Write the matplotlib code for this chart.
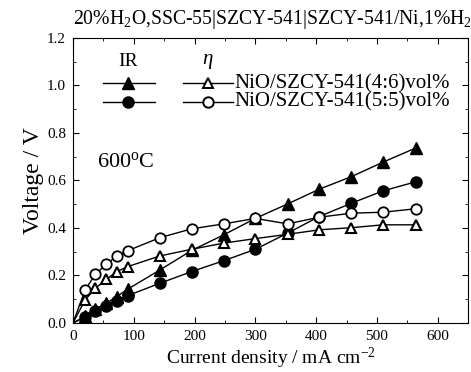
import matplotlib.pyplot as plt
from matplotlib.lines import Line2D

plt.rcParams['font.family'] = ['Liberation Serif', 'DejaVu Serif']
plt.rcParams['mathtext.fontset'] = 'custom'
plt.rcParams['mathtext.rm'] = 'Liberation Serif'
plt.rcParams['mathtext.it'] = 'Liberation Serif:italic'

current = [0, 20, 37, 55, 72, 90, 143, 195, 248, 300, 353, 405, 458, 510, 565]
ir_46 = [0, 0.027, 0.058, 0.083, 0.111, 0.142, 0.223, 0.305, 0.371, 0.440, 0.501, 0.563, 0.616, 0.677, 0.738]
eta_46 = [0, 0.097, 0.146, 0.184, 0.216, 0.237, 0.282, 0.310, 0.336, 0.355, 0.373, 0.392, 0.401, 0.413, 0.413]
ir_55 = [0, 0.025, 0.048, 0.072, 0.094, 0.115, 0.167, 0.216, 0.262, 0.310, 0.378, 0.448, 0.504, 0.556, 0.595]
eta_55 = [0, 0.139, 0.206, 0.247, 0.282, 0.304, 0.359, 0.396, 0.417, 0.440, 0.417, 0.445, 0.462, 0.466, 0.481]
labels = ['NiO/SZCY-541(4:6)vol%', 'NiO/SZCY-541(5:5)vol%']

fig = plt.figure(figsize=(4.71, 3.72), dpi=100)
ax = fig.add_axes([0.155, 0.132, 0.839, 0.766])

every = range(1, len(current))
ax.plot(current, ir_46, marker='^', color='black', mfc='black', lw=1, ms=8, markevery=every)
ax.plot(current, ir_55, marker='o', color='black', mfc='black', lw=1, ms=8, markevery=every)
ax.plot(current, eta_46, marker='^', color='black', mfc='white', lw=1, ms=7.5, mew=1.5, markevery=every)
ax.plot(current, eta_55, marker='o', color='black', mfc='white', lw=1, ms=7.5, mew=1.3, markevery=every)

ax.set_xlim(0, 650)
ax.set_ylim(0, 1.2)
ax.set_xticks(range(0, 601, 100))
ax.set_xticks(range(50, 651, 100), minor=True)
ax.set_yticks([0, 0.2, 0.4, 0.6, 0.8, 1.0, 1.2])
ax.set_yticks([0.1, 0.3, 0.5, 0.7, 0.9, 1.1], minor=True)
ax.tick_params(which='both', direction='in', top=True, right=True, labelsize=11)
ax.tick_params(which='major', length=4)
ax.tick_params(which='minor', length=2.5)
ax.tick_params(axis='y', pad=5)
ax.tick_params(axis='x', pad=5)
ax.yaxis.set_major_formatter(plt.FormatStrFormatter('%.1f'))

ax.set_xlabel('Current density / mA cm$^{-2}$', fontsize=14, labelpad=2)
ax.set_ylabel('Voltage / V', fontsize=17, labelpad=2)

fig.text(0.155, 0.935, '20%H$_2$O,SSC-55|SZCY-541|SZCY-541/Ni,1%H$_2$', fontsize=14.2, va='baseline')

# legend drawn by hand
ax.text(0.139, 0.916, 'IR', transform=ax.transAxes, ha='center', va='center', fontsize=14)
ax.text(0.342, 0.916, r'$\it{\eta}$', transform=ax.transAxes, ha='center', va='center', fontsize=15)
rows = [(0.842, '^'), (0.775, 'o')]
for y, m in rows:
    ax.add_line(Line2D([0.076, 0.208], [y, y], transform=ax.transAxes, color='black', lw=1))
    ax.add_line(Line2D([0.139], [y], transform=ax.transAxes, marker=m, color='black', mfc='black', ms=8))
    ax.add_line(Line2D([0.278, 0.405], [y, y], transform=ax.transAxes, color='black', lw=1))
    ax.add_line(Line2D([0.342], [y], transform=ax.transAxes, marker=m, color='black', mfc='white', ms=7.5, mew=1.4))
ax.text(0.408, 0.806, '\n'.join(labels), transform=ax.transAxes, va='center', fontsize=15, linespacing=0.93)

ax.text(0.061, 0.565, '600$^{\\rm o}$C', transform=ax.transAxes, va='center', fontsize=16)

fig.savefig('out.png', dpi=100)
